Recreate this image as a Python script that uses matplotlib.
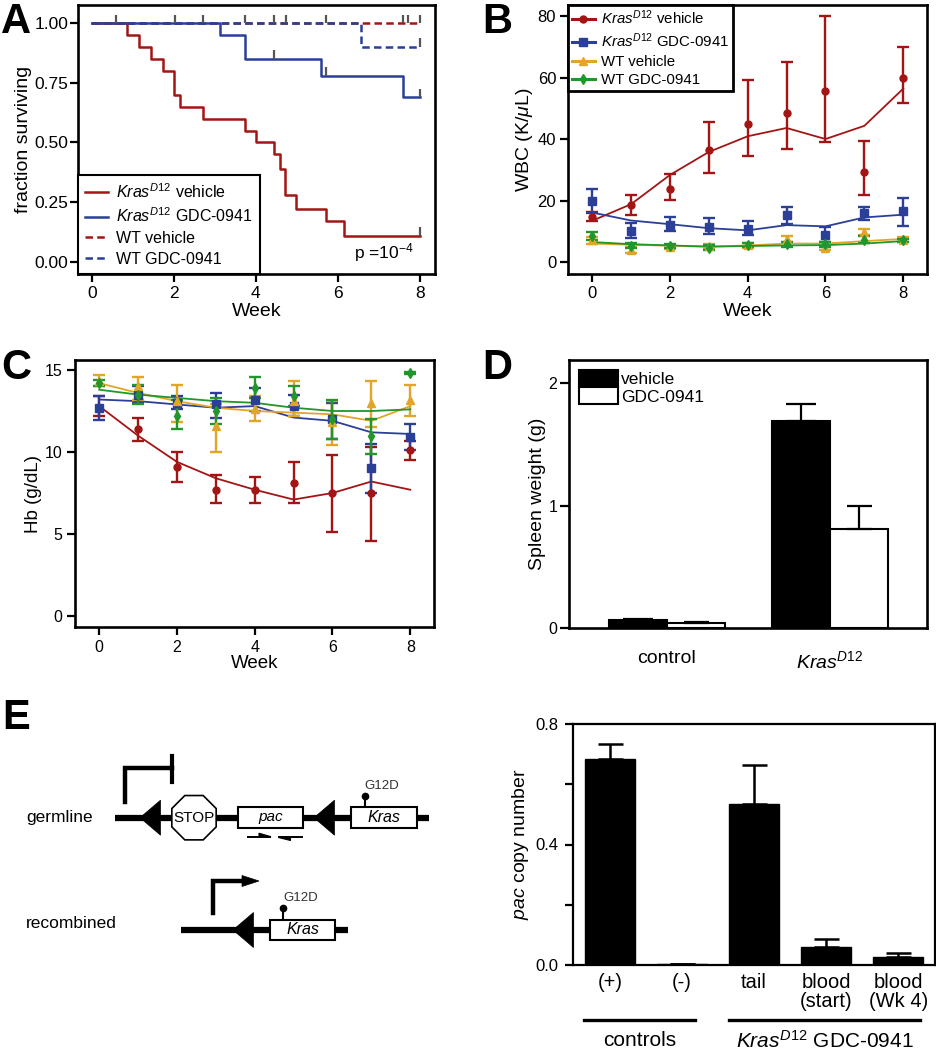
import matplotlib
matplotlib.use('Agg')
import matplotlib.pyplot as plt
from matplotlib.patches import Polygon, Rectangle, RegularPolygon, Patch
from matplotlib.lines import Line2D
import numpy as np

plt.rcParams['font.family'] = ['Liberation Sans', 'DejaVu Sans']
plt.rcParams['mathtext.fontset'] = 'custom'
plt.rcParams['mathtext.rm'] = 'Liberation Sans'
plt.rcParams['mathtext.it'] = 'Liberation Sans:italic'
plt.rcParams['mathtext.bf'] = 'Liberation Sans:bold'

RED = '#A31515'
BLUE = '#2B3F98'
GOLD = '#E1A528'
GREEN = '#23962B'
CENS = '#555555'
KRAS = r'$\mathit{Kras}^{\mathit{D12}}$'

# ---------------- Panel A: survival ----------------
km_kras_veh_t = [0, 0.86, 1.15, 1.45, 1.73, 2.0, 2.14, 2.71, 3.73, 4.01, 4.44, 4.58, 4.72, 4.99, 5.70, 6.14, 8.0]
km_kras_veh_s = [1.0, 0.95, 0.90, 0.85, 0.80, 0.70, 0.65, 0.60, 0.55, 0.50, 0.45, 0.39, 0.28, 0.22, 0.17, 0.11, 0.11]
km_kras_gdc_t = [0, 3.13, 3.73, 5.58, 7.58, 8.0]
km_kras_gdc_s = [1.0, 0.95, 0.85, 0.78, 0.69, 0.69]
km_wt_veh_t = [0, 8.0]
km_wt_veh_s = [1.0, 1.0]
km_wt_gdc_t = [0, 6.57, 8.0]
km_wt_gdc_s = [1.0, 0.90, 0.90]
censor_t = [0.59, 2.02, 2.71, 3.73, 4.44, 4.73, 5.70, 7.58, 7.72, 8.0, 4.44, 5.70, 8.0, 8.0, 8.0]
censor_s = [1.0, 1.0, 1.0, 1.0, 1.0, 1.0, 1.0, 1.0, 1.0, 1.0, 0.85, 0.78, 0.69, 0.11, 0.90]

# ---------------- Panel B: WBC ----------------
weeks = [0, 1, 2, 3, 4, 5, 6, 7, 8]
wbc_red_mean = [14.6, 18.4, 23.9, 36.4, 45.0, 48.6, 55.7, 29.3, 60.0]
wbc_red_lo = [13.2, 15.2, 20.3, 29.1, 34.4, 36.8, 38.9, 21.9, 51.7]
wbc_red_hi = [16.2, 21.9, 28.5, 45.4, 59.2, 64.9, 80.0, 39.2, 70.0]
wbc_red_fit = [13.4, 18.8, 28.3, 35.8, 40.9, 43.6, 40.0, 44.3, 56.4]
wbc_blue_mean = [20.0, 10.1, 12.2, 11.4, 10.9, 15.2, 8.8, 16.1, 16.5]
wbc_blue_lo = [16.1, 7.7, 10.0, 9.0, 8.8, 12.5, 6.4, 13.6, 11.6]
wbc_blue_hi = [23.6, 12.8, 14.5, 14.3, 13.3, 18.0, 11.4, 18.0, 20.8]
wbc_blue_fit = [16.1, 13.5, 12.3, 11.0, 10.3, 12.0, 11.6, 14.5, 15.4]
wbc_gold_mean = [7.1, 4.0, 4.9, 5.1, 5.4, 7.6, 4.7, 9.8, 7.3]
wbc_gold_lo = [6.0, 3.0, 4.2, 4.3, 4.6, 6.6, 3.8, 8.8, 6.6]
wbc_gold_hi = [8.2, 5.0, 5.6, 5.9, 6.2, 8.6, 5.6, 10.8, 8.0]
wbc_gold_fit = [6.0, 5.6, 5.3, 5.0, 5.4, 6.0, 6.0, 6.8, 7.5]
wbc_green_mean = [8.5, 5.3, 5.3, 4.7, 5.5, 5.7, 5.8, 7.3, 7.0]
wbc_green_lo = [7.3, 4.5, 4.6, 3.9, 4.8, 5.0, 5.0, 6.3, 6.4]
wbc_green_hi = [9.7, 6.1, 6.0, 5.5, 6.2, 6.4, 6.6, 8.3, 7.6]
wbc_green_fit = [6.5, 5.8, 5.4, 5.0, 5.2, 5.4, 5.5, 6.0, 6.8]

# ---------------- Panel C: Hb ----------------
hb_red_mean = [12.7, 11.4, 9.1, 7.7, 7.7, 8.1, 7.5, 7.5, 10.1]
hb_red_lo = [12.2, 10.7, 8.2, 6.9, 6.9, 6.9, 5.1, 4.6, 9.5]
hb_red_hi = [13.4, 12.1, 10.0, 8.6, 8.5, 9.4, 9.8, 10.3, 10.7]
hb_red_fit = [12.8, 11.0, 9.4, 8.4, 7.7, 7.1, 7.5, 8.2, 7.7]
hb_blue_mean = [12.66, 13.5, 13.0, 12.9, 13.2, 12.8, 12.0, 9.0, 10.9]
hb_blue_lo = [11.95, 13.0, 12.6, 12.1, 12.5, 12.2, 10.8, 7.5, 10.1]
hb_blue_hi = [13.4, 14.0, 13.4, 13.6, 13.9, 13.5, 13.0, 10.5, 11.7]
hb_blue_fit = [13.2, 13.1, 12.9, 12.7, 12.8, 12.1, 11.9, 11.2, 11.1]
hb_gold_mean = [14.3, 14.0, 13.1, 11.6, 12.6, 13.1, 11.8, 13.0, 13.2]
hb_gold_lo = [14.0, 13.2, 11.8, 10.0, 11.9, 12.2, 10.4, 11.5, 12.2]
hb_gold_hi = [14.7, 14.6, 14.1, 12.9, 13.4, 14.3, 13.1, 14.3, 14.1]
hb_gold_fit = [14.2, 13.6, 13.1, 12.7, 12.5, 12.4, 12.3, 11.9, 12.8]
hb_green_mean = [14.2, 13.5, 12.2, 12.5, 13.9, 13.4, 12.0, 11.0, 14.8]
hb_green_lo = [14.0, 12.9, 11.4, 11.7, 13.3, 12.8, 10.8, 9.9, 14.75]
hb_green_hi = [14.4, 14.1, 13.2, 13.3, 14.6, 14.0, 13.2, 12.0, 14.85]
hb_green_fit = [13.8, 13.5, 13.3, 13.1, 13.0, 12.7, 12.5, 12.5, 12.6]

# ---------------- Panel D: spleen ----------------
spleen_groups = ['control', KRAS]
spleen_vehicle = [0.065, 1.69]
spleen_vehicle_err = [0.01, 0.14]
spleen_gdc = [0.04, 0.81]
spleen_gdc_err = [0.005, 0.19]

# ---------------- Panel E: pac copy number ----------------
pac_labels = ['(+)', '(-)', 'tail', 'blood\n(start)', 'blood\n(Wk 4)']
pac_mean = [0.685, 0.004, 0.534, 0.061, 0.028]
pac_err = [0.049, 0.0, 0.129, 0.024, 0.011]

W, H = 936, 1050
fig = plt.figure(figsize=(W / 100, H / 100), dpi=100)


def px_axes(x0, y0, x1, y1):
    return fig.add_axes([x0 / W, 1 - y1 / H, (x1 - x0) / W, (y1 - y0) / H])


def style(ax, lw=1.9, tl=5.5, fs=11.5, xpad=3.5, ypad=2):
    for s in ax.spines.values():
        s.set_linewidth(lw)
    ax.tick_params(direction='out', length=tl, width=1.6, labelsize=fs)
    ax.tick_params(axis='x', pad=xpad)
    ax.tick_params(axis='y', pad=ypad)


# ===== Panel A =====
axA = px_axes(78, 5, 435, 274)
lw_km = 1.8
l3, = axA.step(km_wt_veh_t, km_wt_veh_s, where='post', color=RED, lw=lw_km, dashes=(3, 1.7))
l4, = axA.step(km_wt_gdc_t, km_wt_gdc_s, where='post', color=BLUE, lw=lw_km, dashes=(3, 1.7))
l1, = axA.step(km_kras_veh_t, km_kras_veh_s, where='post', color=RED, lw=lw_km)
l2, = axA.step(km_kras_gdc_t, km_kras_gdc_s, where='post', color=BLUE, lw=lw_km)
axA.vlines(censor_t, censor_s, np.array(censor_s) + 0.035, color=CENS, lw=1.6, zorder=5)
axA.set_xlim(-0.34, 8.37)
axA.set_ylim(-0.05, 1.075)
axA.set_xticks([0, 2, 4, 6, 8])
axA.set_yticks([0, 0.25, 0.5, 0.75, 1.0])
axA.set_yticklabels(['0.00', '0.25', '0.50', '0.75', '1.00'])
style(axA, fs=12.5, ypad=1.5)
axA.set_xlabel('Week', fontsize=14, labelpad=1)
axA.set_ylabel('fraction surviving', fontsize=14, labelpad=2)
legA = axA.legend([l1, l2, l3, l4],
                  [KRAS + ' vehicle', KRAS + ' GDC-0941', 'WT vehicle', 'WT GDC-0941'],
                  loc='lower left', borderaxespad=0, fontsize=11.5, handlelength=1.45,
                  handletextpad=0.45, labelspacing=0.36, borderpad=0.45, fancybox=False,
                  framealpha=1)
legA.get_frame().set_edgecolor('black')
legA.get_frame().set_linewidth(1.5)
axA.text(6.4, 0.04, r'p =10$^{\mathrm{-4}}$', fontsize=12.5, va='center', ha='left')

# ===== Panel B =====
axB = px_axes(568, 5, 927, 274)
series_B = [
    (wbc_red_mean, wbc_red_lo, wbc_red_hi, wbc_red_fit, RED, 'o', 5),
    (wbc_blue_mean, wbc_blue_lo, wbc_blue_hi, wbc_blue_fit, BLUE, 's', 5.5),
    (wbc_gold_mean, wbc_gold_lo, wbc_gold_hi, wbc_gold_fit, GOLD, '^', 6),
    (wbc_green_mean, wbc_green_lo, wbc_green_hi, wbc_green_fit, GREEN, 'd', 5),
]
for mean, lo, hi, fit, c, m, ms in series_B:
    mean = np.array(mean)
    axB.errorbar(weeks, mean, yerr=[mean - np.array(lo), np.array(hi) - mean], fmt=m, color=c,
                 ms=ms, capsize=4, elinewidth=1.7, capthick=1.7)
    axB.plot(weeks, fit, color=c, lw=1.3)
axB.set_xlim(-0.62, 8.61)
axB.set_ylim(-3.9, 83.6)
axB.set_xticks([0, 2, 4, 6, 8])
axB.set_yticks([0, 20, 40, 60, 80])
style(axB, fs=12, ypad=3)
axB.set_xlabel('Week', fontsize=14, labelpad=1)
axB.set_ylabel(r'WBC (K/$\mu$L)', fontsize=14, labelpad=2)
hB = [Line2D([], [], color=c, marker=m, ms=ms, lw=2.2) for _, _, _, _, c, m, ms in series_B]
legB = axB.legend(hB, [KRAS + ' vehicle', KRAS + ' GDC-0941', 'WT vehicle', 'WT GDC-0941'],
                  loc='upper left', borderaxespad=0, fontsize=10.8, handlelength=1.55,
                  handletextpad=0.4, labelspacing=0.3, borderpad=0.25, fancybox=False,
                  framealpha=1)
legB.get_frame().set_edgecolor('black')
legB.get_frame().set_linewidth(2.0)

# ===== Panel C =====
axC = px_axes(75, 360, 434, 627)
series_C = [
    (hb_red_mean, hb_red_lo, hb_red_hi, hb_red_fit, RED, 'o', 5),
    (hb_blue_mean, hb_blue_lo, hb_blue_hi, hb_blue_fit, BLUE, 's', 5.5),
    (hb_gold_mean, hb_gold_lo, hb_gold_hi, hb_gold_fit, GOLD, '^', 6),
    (hb_green_mean, hb_green_lo, hb_green_hi, hb_green_fit, GREEN, 'd', 5),
]
for mean, lo, hi, fit, c, m, ms in series_C:
    mean = np.array(mean)
    axC.errorbar(weeks, mean, yerr=[mean - np.array(lo), np.array(hi) - mean], fmt=m, color=c,
                 ms=ms, capsize=4, elinewidth=1.7, capthick=1.7)
    axC.plot(weeks, fit, color=c, lw=1.3)
axC.set_xlim(-0.62, 8.61)
axC.set_ylim(-0.67, 15.61)
axC.set_xticks([0, 2, 4, 6, 8])
axC.set_yticks([0, 5, 10, 15])
style(axC, fs=11.5, ypad=3.5)
axC.set_xlabel('Week', fontsize=13.5, labelpad=0)
axC.set_ylabel('Hb (g/dL)', fontsize=13.5, labelpad=2)

# ===== Panel D =====
axD = px_axes(569, 360, 927, 628)
xD = np.arange(len(spleen_groups))
wD = 0.355
axD.bar(xD - wD / 2, spleen_vehicle, wD, color='black', edgecolor='black', lw=1.5,
        yerr=[np.zeros(len(xD)), spleen_vehicle_err], capsize=11,
        error_kw=dict(lw=1.6, capthick=1.6, ecolor='black'))
axD.bar(xD + wD / 2, spleen_gdc, wD, color='white', edgecolor='black', lw=1.5,
        yerr=[np.zeros(len(xD)), spleen_gdc_err], capsize=9,
        error_kw=dict(lw=1.6, capthick=1.6, ecolor='black'))
axD.set_xlim(-0.6, 1.595)
axD.set_ylim(0, 2.19)
axD.set_yticks([0, 1, 2])
axD.set_xticks(xD)
axD.set_xticklabels(spleen_groups)
style(axD, fs=11.5, tl=6.5, ypad=2)
axD.tick_params(axis='x', length=0, pad=16, labelsize=14)
axD.set_ylabel('Spleen weight (g)', fontsize=14, labelpad=2)
hD = [Patch(facecolor='black', edgecolor='black', lw=1.5),
      Patch(facecolor='white', edgecolor='black', lw=1.5)]
legD = axD.legend(hD, ['vehicle', 'GDC-0941'], loc='upper left', frameon=False, fontsize=12.5,
                  handlelength=2.3, handleheight=1.15, labelspacing=0.0, handletextpad=0.15,
                  borderpad=0.35, borderaxespad=0.2)

# ===== Panel E (bar chart) =====
axE = px_axes(573, 724, 935, 965)
xE = np.arange(len(pac_labels))
axE.bar(xE, pac_mean, 0.7, color='black', edgecolor='black', lw=1,
        yerr=[np.zeros(len(xE)), pac_err], capsize=9,
        error_kw=dict(lw=1.8, capthick=1.8, ecolor='black'))
axE.set_xlim(-0.51, 4.51)
axE.set_ylim(0, 0.8)
axE.set_yticks([0, 0.2, 0.4, 0.6, 0.8])
axE.set_yticklabels(['0.0', '', '0.4', '', '0.8'])
axE.set_xticks(xE)
axE.set_xticklabels(pac_labels, linespacing=1.0)
style(axE, lw=1.6, fs=12, tl=5.5, ypad=5)
axE.tick_params(axis='x', length=0, pad=6, labelsize=14.5)
axE.set_ylabel(r'$\mathit{pac}$ copy number', fontsize=14, labelpad=3)

# group brackets below panel E bar chart (figure pixel coords)
for x0, x1 in [(584, 695), (729, 920)]:
    fig.add_artist(Line2D([x0 / W, x1 / W], [1 - 1020 / H, 1 - 1020 / H], color='black', lw=2.4))
fig.text(640 / W, 1 - 1041 / H, 'controls', fontsize=15, ha='center', va='center')
fig.text(825 / W, 1 - 1041 / H, KRAS + ' GDC-0941', fontsize=15, ha='center', va='center')

# ===== Panel E (schematic) =====
axS = px_axes(0, 680, 470, 1050)
axS.set_xlim(0, 470)
axS.set_ylim(1050, 680)
axS.axis('off')
LW_DNA = 4.5
# germline
yg = 817.7
axS.plot([115, 429], [yg, yg], color='black', lw=LW_DNA, solid_capstyle='butt', zorder=1)
for tip in (140, 314):
    axS.add_patch(Polygon([(tip, yg), (tip + 20.5, yg - 17.5), (tip + 20.5, yg + 17.5)],
                          closed=True, fc='black', ec='black', lw=0.5, zorder=3))
axS.add_patch(RegularPolygon((194, yg), numVertices=8, radius=24, orientation=np.pi / 8,
                             fc='white', ec='black', lw=1.2, zorder=3))
axS.text(194, yg, 'STOP', fontsize=11, ha='center', va='center', zorder=4)
axS.add_patch(Rectangle((238, yg - 10.3), 65, 20.6, fc='white', ec='black', lw=1.5, zorder=3))
axS.text(270.5, yg - 1, 'pac', fontsize=11, style='italic', ha='center', va='center', zorder=4)
axS.add_patch(Rectangle((351, yg - 10.3), 66, 20.6, fc='white', ec='black', lw=1.5, zorder=3))
axS.text(384, yg, 'Kras', fontsize=11.5, style='italic', ha='center', va='center', zorder=4)
axS.plot([365, 365], [yg - 10.3, 796], color='black', lw=1.5, zorder=2)
axS.plot([365], [796], 'o', color='black', ms=4.5, zorder=4)
axS.text(364, 786, 'G12D', fontsize=9.5, ha='left', va='center', color='#333333')
# primers
yp = 836.7
axS.plot([248, 270], [yp, yp], color='black', lw=1.4)
axS.add_patch(Polygon([(259, yp), (271, yp), (259, yp - 3.5)], closed=True, fc='black', ec='black', lw=0.8))
axS.plot([279, 302], [yp, yp], color='black', lw=1.4)
axS.add_patch(Polygon([(278, yp), (290, yp), (290, yp + 3.5)], closed=True, fc='black', ec='black', lw=0.8))
# blocked promoter
axS.plot([125, 125, 171.7], [801.7, 768.3, 768.3], color='black', lw=3.2, solid_joinstyle='miter')
axS.plot([171.7, 171.7], [756, 782], color='black', lw=3.0)
axS.text(26, yg, 'germline', fontsize=12.5, ha='left', va='center')

# recombined
yr = 930
axS.plot([181, 348], [yr, yr], color='black', lw=LW_DNA, solid_capstyle='butt', zorder=1)
axS.add_patch(Polygon([(233, yr), (253.5, yr - 17.5), (253.5, yr + 17.5)], closed=True,
                      fc='black', ec='black', lw=0.5, zorder=3))
axS.add_patch(Rectangle((270, yr - 10.3), 65, 20.6, fc='white', ec='black', lw=1.5, zorder=3))
axS.text(302.5, yr, 'Kras', fontsize=11.5, style='italic', ha='center', va='center', zorder=4)
axS.plot([283, 283], [yr - 10.3, 908], color='black', lw=1.5, zorder=2)
axS.plot([283], [908], 'o', color='black', ms=4.5, zorder=4)
axS.text(283, 898, 'G12D', fontsize=9.5, ha='left', va='center', color='#333333')
axS.plot([213, 213, 245], [913, 881, 881], color='black', lw=3.2, solid_joinstyle='miter')
axS.add_patch(Polygon([(242, 875.5), (259, 881), (242, 886.5)], closed=True, fc='black', ec='black', lw=0.5))
axS.text(26, 924, 'recombined', fontsize=12.5, ha='left', va='center')

# panel letters
for letter, (px, py) in {'A': (1, 33), 'B': (482, 33), 'C': (1, 379), 'D': (482, 379), 'E': (2, 729)}.items():
    fig.text(px / W, 1 - py / H, letter, fontsize=30, fontweight='bold', ha='left', va='baseline')

fig.savefig('out.png', dpi=100)
